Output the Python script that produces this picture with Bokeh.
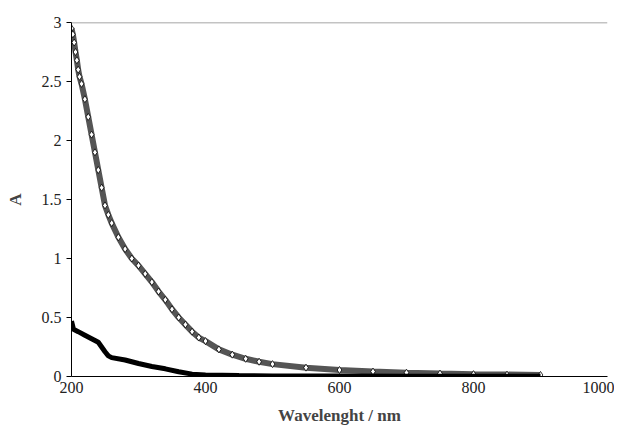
from bokeh.plotting import figure
from bokeh.models import Range1d, FixedTicker, Span
from bokeh.embed import file_html
from bokeh.resources import INLINE

wl_a = [200, 202, 204, 206, 208, 210, 212, 215, 220, 225, 230, 235, 240, 245, 250, 255, 260,
        270, 280, 290, 300, 310, 320, 330, 340, 350, 360, 370, 380, 390, 400, 420, 440, 460,
        480, 500, 550, 600, 650, 700, 750, 800, 850, 900]
abs_a = [2.95, 2.9, 2.83, 2.75, 2.68, 2.6, 2.54, 2.48, 2.35, 2.2, 2.05, 1.9, 1.75, 1.6, 1.45, 1.37, 1.3,
         1.18, 1.08, 1.0, 0.94, 0.87, 0.8, 0.72, 0.65, 0.57, 0.5, 0.44, 0.38, 0.33, 0.3, 0.23, 0.185, 0.15,
         0.125, 0.105, 0.075, 0.055, 0.042, 0.032, 0.025, 0.02, 0.016, 0.013]

wl_b = [200, 203, 210, 220, 230, 240, 250, 255, 260, 280, 300, 320, 340, 360, 380, 400, 450, 500,
        600, 700, 800, 900]
abs_b = [0.47, 0.40, 0.38, 0.35, 0.32, 0.29, 0.21, 0.175, 0.16, 0.14, 0.11, 0.085, 0.065, 0.04, 0.02,
         0.013, 0.008, 0.005, 0.004, 0.003, 0.003, 0.003]

FONT = "'Liberation Serif'"

p = figure(width=614, height=427, output_backend="svg", toolbar_location=None,
           x_range=Range1d(200, 1000), y_range=Range1d(0, 3),
           min_border_left=71, min_border_right=7, min_border_top=22, min_border_bottom=51)
p.outline_line_color = None
p.grid.visible = False

p.line(wl_a, abs_a, line_color="#555555", line_width=6)
p.scatter(wl_a, abs_a, marker="diamond", size=7, fill_color="white", line_color="black", line_width=0.8)
p.line(wl_b, abs_b, line_color="black", line_width=5)

p.add_layout(Span(location=3, dimension="width", line_color="#888888", line_width=1.5))

for ax in (p.xaxis[0], p.yaxis[0]):
    ax.axis_line_color = "black"
    ax.major_label_text_font = FONT
    ax.major_label_text_font_size = "16px"
    ax.major_label_text_color = "#222222"
    ax.axis_label_text_font = FONT
    ax.axis_label_text_font_size = "17px"
    ax.axis_label_text_font_style = "bold"
    ax.minor_tick_line_color = None

p.xaxis.ticker = FixedTicker(ticks=[200, 400, 600, 800, 1000])
p.xaxis.major_tick_line_color = None
p.xaxis.major_tick_out = 0
p.xaxis.major_label_standoff = 5
p.xaxis.axis_label = "Wavelenght / nm"
p.xaxis.axis_label_standoff = 10
p.yaxis.ticker = FixedTicker(ticks=[0, 0.5, 1, 1.5, 2, 2.5, 3])
p.yaxis.major_tick_out = 5
p.yaxis.major_tick_in = 0
p.yaxis.axis_label = "A"
p.yaxis.axis_label_standoff = 14

open("out.html", "w").write(file_html(p, INLINE))
